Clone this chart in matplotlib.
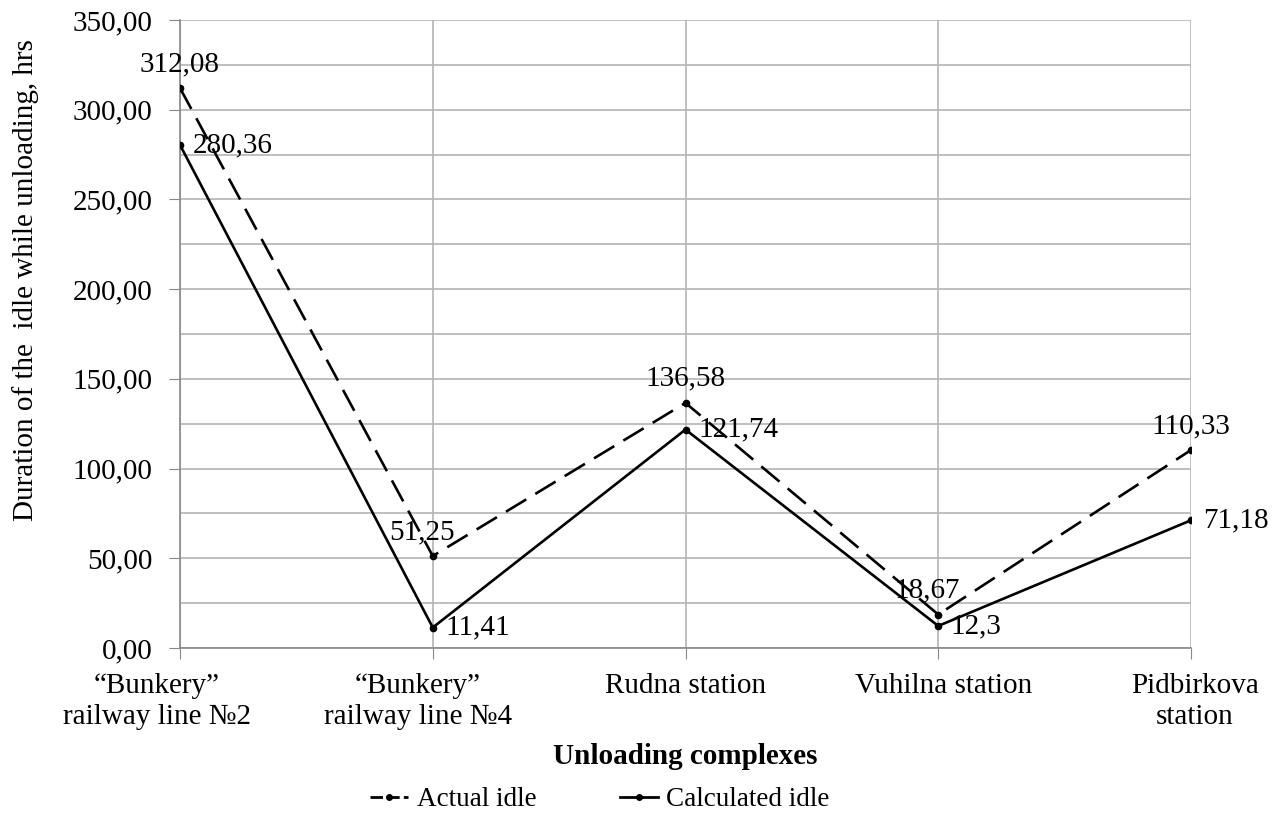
import matplotlib
matplotlib.use("Agg")
import matplotlib.pyplot as plt
import matplotlib.transforms as mtransforms
from matplotlib.lines import Line2D

categories = ["\u201cBunkery\u201d\nrailway line \u21162", "\u201cBunkery\u201d\nrailway line \u21164",
              "Rudna station", "Vuhilna station", "Pidbirkova\nstation"]
actual = [312.08, 51.25, 136.58, 18.67, 110.33]
calculated = [280.36, 11.41, 121.74, 12.3, 71.18]
actual_labels = ["312,08", "51,25", "136,58", "18,67", "110,33"]
calc_labels = ["280,36", "11,41", "121,74", "12,3", "71,18"]
yticks = [0, 50, 100, 150, 200, 250, 300, 350]

plt.rcParams['font.family'] = ['Liberation Serif', 'DejaVu Serif']
FS = 21

fig = plt.figure(figsize=(12.83, 8.16), dpi=100)
ax = fig.add_axes([180/1283, 1-648/816, (1191-180)/1283, (648-20)/816])

x = list(range(len(categories)))
ax.plot(x, actual, color='black', lw=1.9, dashes=(9, 4), marker='o', ms=4.5, zorder=3)
ax.plot(x, calculated, color='black', lw=1.9, marker='o', ms=4.5, zorder=3)

ax.set_xlim(0, len(categories)-1)
ax.set_ylim(0, 350)
ax.set_yticks(yticks)
ax.set_yticklabels([f"{v:.2f}".replace('.', ',') for v in yticks])
ax.set_yticks(range(25, 350, 50), minor=True)
ax.set_xticks(x)
ax.set_xticklabels(categories, fontsize=FS, linespacing=1.25)
ax.tick_params(axis='y', which='major', labelsize=FS, length=8, color='#888888', pad=12)
ax.tick_params(axis='y', which='minor', length=0)
ax.tick_params(axis='x', length=8, color='#888888', pad=10)

# nudge category labels as in the reference
for lbl, dx in zip(ax.get_xticklabels(), [-23, -15, 0, 5, 4]):
    lbl.set_transform(lbl.get_transform() + mtransforms.ScaledTranslation(dx/100, 0, fig.dpi_scale_trans))

ax.grid(True, which='both', axis='y', color='#b4b4b4', lw=1.2)
ax.grid(True, which='major', axis='x', color='#b4b4b4', lw=1.2)
ax.set_axisbelow(True)
for s in ['top', 'right']:
    ax.spines[s].set_visible(False)
for s in ['left', 'bottom']:
    ax.spines[s].set_color('#888888')
    ax.spines[s].set_linewidth(1.2)

# data labels
for i, (v, t) in enumerate(zip(actual, actual_labels)):
    ax.annotate(t, (i, v), xytext=(-8 if i in (1, 3) else 0, 8), textcoords='offset points',
                ha='center', va='bottom', fontsize=FS)
for i, (v, t) in enumerate(zip(calculated, calc_labels)):
    ax.annotate(t, (i, v), xytext=(9, 0), textcoords='offset points',
                ha='left', va='center', fontsize=FS)

fig.text(26/1283, 1-280/816, "Duration of the  idle while unloading, hrs", rotation=90,
         ha='center', va='center', fontsize=FS)
fig.text((180+1191)/2/1283, 1-757/816, "Unloading complexes", ha='center', va='center',
         fontsize=FS, fontweight='bold')

handles = [Line2D([0], [0], color='black', lw=2, dashes=(4.5, 1.5), marker='o', ms=4, markevery=[0]),
           Line2D([0], [0], color='black', lw=2, marker='o', ms=4)]
leg = fig.legend(handles, ["Actual idle", "Calculated idle"], loc='center',
                 bbox_to_anchor=(600/1283, 1-800/816), ncol=2, frameon=False, fontsize=19.5,
                 handlelength=1.4, handletextpad=0.3, columnspacing=3.1)
fig.savefig("out.png", dpi=100)
